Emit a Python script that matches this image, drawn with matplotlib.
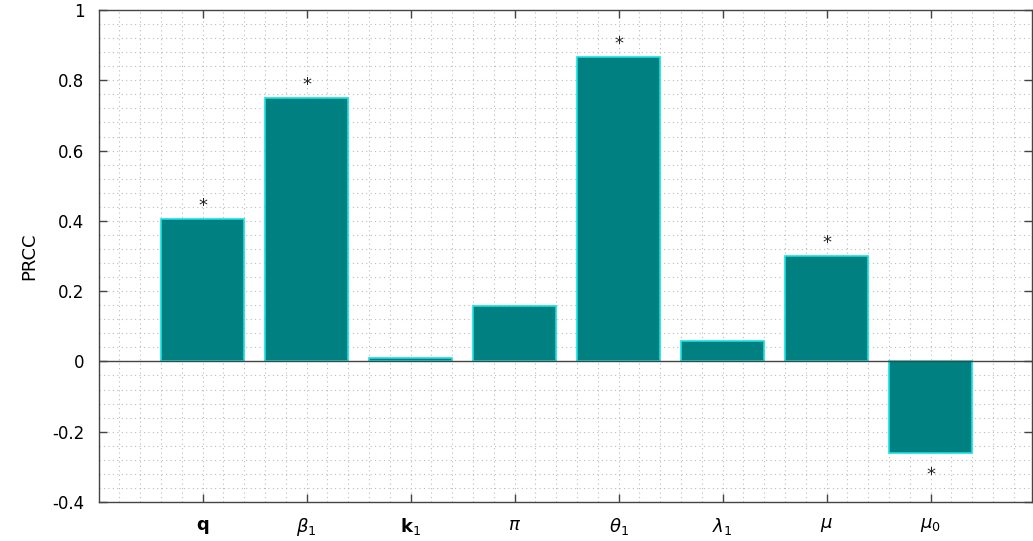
import matplotlib
matplotlib.use("Agg")
import matplotlib.pyplot as plt
from matplotlib.ticker import MultipleLocator
import numpy as np

params = ["q", r"$\beta_1$", "k$_1$", r"$\pi$", r"$\theta_1$", r"$\lambda_1$", r"$\mu$", r"$\mu_0$"]
prcc = [0.405, 0.75, 0.01, 0.158, 0.866, 0.058, 0.30, -0.26]
significant = [True, True, False, False, True, False, True, True]

plt.rcParams["font.family"] = ["DejaVu Sans"]
plt.rcParams["mathtext.fontset"] = "dejavusans"

fig = plt.figure(figsize=(10.33, 5.41), dpi=100)
ax = fig.add_axes([98.5 / 1033, 39 / 541, 933 / 1033, 492 / 541])

x = np.arange(1, len(params) + 1)
ax.bar(x, prcc, width=0.8, color="#008080", edgecolor="#19e0e0", linewidth=1.2, zorder=3)

for xi, v, s in zip(x, prcc, significant):
    if not s:
        continue
    if v >= 0:
        ax.text(xi, v + 0.012, "*", ha="center", va="bottom", fontsize=13, color="#222222", zorder=4)
    else:
        ax.text(xi, v - 0.038, "*", ha="center", va="top", fontsize=13, color="#222222", zorder=4)

ax.axhline(0, color="#444444", linewidth=1.0, zorder=4)

ax.set_xlim(0, 8.97)
ax.set_ylim(-0.4, 1.0)
ax.set_xticks(x)
ax.set_xticklabels(params, fontsize=13)
for lbl in ax.get_xticklabels():
    if lbl.get_text() in ("q", "k$_1$"):
        lbl.set_fontweight("bold")
ax.set_yticks(np.arange(-0.4, 1.01, 0.2))
ax.set_yticklabels(["-0.4", "-0.2", "0", "0.2", "0.4", "0.6", "0.8", "1"], fontsize=12)
ax.xaxis.set_minor_locator(MultipleLocator(0.2))
ax.yaxis.set_minor_locator(MultipleLocator(0.04))
ax.tick_params(which="major", direction="in", length=6, width=1, color="#444444",
               top=True, right=True, pad=10)
ax.tick_params(which="minor", length=0, top=True, right=True)
ax.grid(which="both", linestyle=(0, (1, 3)), color="#bbbbbb", linewidth=0.8, zorder=0)
for sp in ax.spines.values():
    sp.set_color("#444444")
    sp.set_linewidth(1.0)
ax.set_ylabel("PRCC", fontsize=13, labelpad=10)

fig.savefig("out.png", dpi=100)
